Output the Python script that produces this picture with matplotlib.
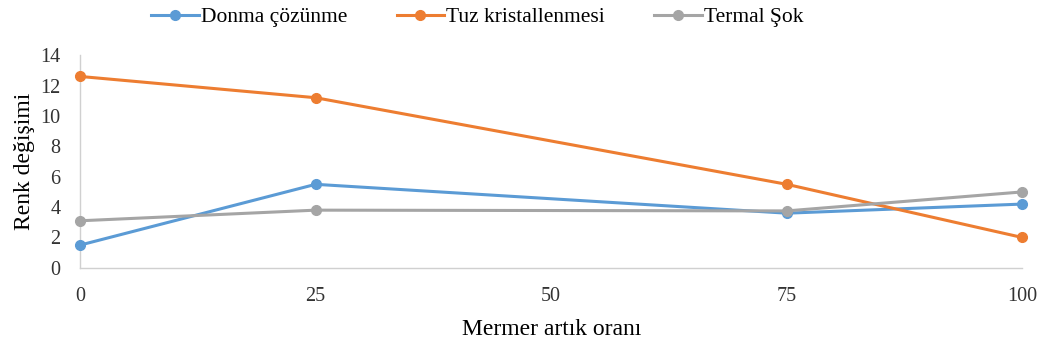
import matplotlib.pyplot as plt
from matplotlib.lines import Line2D

# Mermer artık oranı (%) ve renk değişimi değerleri
oran = [0, 25, 75, 100]
donma = [1.5, 5.5, 3.6, 4.2]
tuz = [12.6, 11.2, 5.5, 2.0]
termal = [3.1, 3.8, 3.75, 5.0]

seriler = [
    ("Donma çözünme", donma, "#5B9BD5"),
    ("Tuz kristallenmesi", tuz, "#ED7D31"),
    ("Termal Şok", termal, "#A5A5A5"),
]

plt.rcParams['font.family'] = ['Liberation Serif', 'DejaVu Serif']

fig = plt.figure(figsize=(10.4, 3.47), dpi=100)
ax = fig.add_axes([0.077, 0.228, 0.906, 0.613])

for ad, degerler, renk in seriler:
    ax.plot(oran, degerler, color=renk, lw=2.2, marker='o', ms=7,
            label=ad, clip_on=False, zorder=3)

ax.set_xlim(0, 100)
ax.set_ylim(0, 14)
ax.set_xticks([0, 25, 50, 75, 100])
ax.set_yticks(range(0, 15, 2))
ax.tick_params(length=0, labelsize=14.5, colors='#333333')
ax.tick_params(axis='x', pad=14)
ax.tick_params(axis='y', pad=14)

for s in ['top', 'right']:
    ax.spines[s].set_visible(False)
for s in ['left', 'bottom']:
    ax.spines[s].set_color('#D0D0D0')
    ax.spines[s].set_linewidth(1)

ax.set_xlabel("Mermer artık oranı", fontsize=17, labelpad=9)
ax.set_ylabel("Renk değişimi", fontsize=17, labelpad=4)

tutucular = [Line2D([0], [0], color=r, lw=2.2, marker='o', ms=7) for _, _, r in seriler]
fig.legend(tutucular, [a for a, _, _ in seriler], loc='upper center',
           bbox_to_anchor=(0.459, 1.035), ncol=3, frameon=False, fontsize=15.5,
           handlelength=2.2, handletextpad=0.1, columnspacing=2.3)

fig.savefig("out.png", dpi=100)
